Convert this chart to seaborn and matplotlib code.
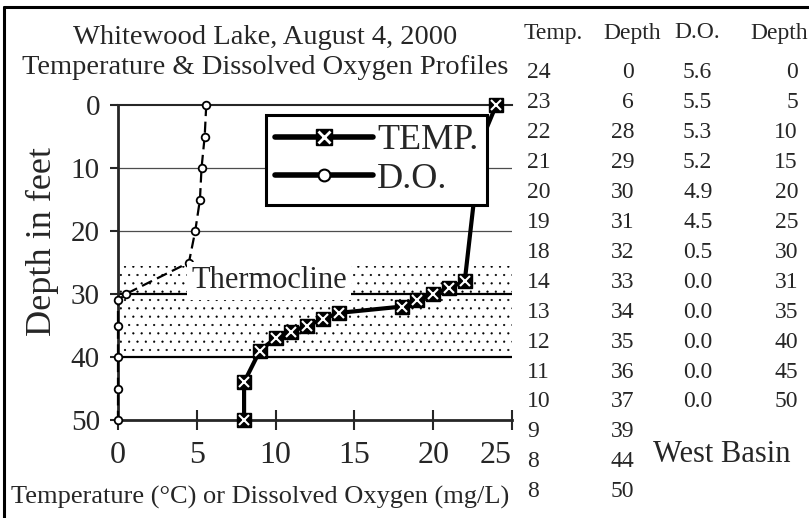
import matplotlib
matplotlib.use("Agg")
import matplotlib.pyplot as plt
from matplotlib.lines import Line2D
import seaborn as sns
import pandas as pd

# profile data (West Basin)
temp_c = [24, 23, 22, 21, 20, 19, 18, 14, 13, 12, 11, 10, 9, 8, 8]
temp_depth = [0, 6, 28, 29, 30, 31, 32, 33, 34, 35, 36, 37, 39, 44, 50]
do_mgl = [5.6, 5.5, 5.3, 5.2, 4.9, 4.5, 0.5, 0.0, 0.0, 0.0, 0.0, 0.0]
do_depth = [0, 5, 10, 15, 20, 25, 30, 31, 35, 40, 45, 50]
depth_ticks = [0, 10, 20, 30, 40, 50]
x_ticks = [0, 5, 10, 15, 20, 25]
thermo_top, thermo_bottom = 25.5, 39.5

temp_df = pd.DataFrame({"temp": temp_c, "depth": temp_depth})
do_df = pd.DataFrame({"do": do_mgl, "depth": do_depth})

sns.set_style("ticks")
plt.rcParams["font.family"] = ["Liberation Serif", "DejaVu Serif"]
plt.rcParams["hatch.linewidth"] = 0.35

W, H = 809, 518
fig = plt.figure(figsize=(W / 100, H / 100), dpi=100)
ax = fig.add_axes([118 / W, 1 - 420 / H, 394 / W, 315 / H])


def fx(px):
    return px / W


def fy(py):
    return 1 - py / H


# thermocline band
ax.fill_between([x_ticks[0], x_ticks[-1]], thermo_top, thermo_bottom, facecolor="white",
                edgecolor="black", hatch="..", linewidth=0, zorder=0.5)
for d in (10, 20):
    ax.axhline(d, color="0.3", lw=0.9, zorder=1)
for d in (30, 40):
    ax.axhline(d, color="black", lw=1.6, zorder=1)

sns.lineplot(data=do_df, x="do", y="depth", sort=False, estimator=None, color="black",
             lw=1.6, linestyle=(0, (5, 2.5)), marker="o", ms=5.5, mfc="white", mec="black",
             mew=1.3, clip_on=False, zorder=3, ax=ax)
sns.lineplot(data=temp_df, x="temp", y="depth", sort=False, estimator=None, color="black",
             lw=3, marker="s", ms=10, mfc="black", mec="black", mew=1,
             clip_on=False, zorder=4, ax=ax)
ax.plot(temp_df["temp"], temp_df["depth"], ls="none", marker="x", ms=6.5, mew=1.5,
        color="white", clip_on=False, zorder=5)

ax.text(9.6, 27.9, "Thermocline", fontsize=22, ha="center", va="center", zorder=3.5,
        bbox=dict(facecolor="white", edgecolor="none", pad=3))

ax.set_xlim(x_ticks[0], x_ticks[-1])
ax.set_ylim(depth_ticks[-1], depth_ticks[0])
ax.set_xticks(x_ticks)
ax.set_yticks(depth_ticks)
ax.tick_params(axis="y", direction="out", length=6, width=1.5, pad=7, labelsize=21)
ax.tick_params(axis="x", direction="inout", length=14, width=1.5, pad=8, labelsize=23)
ax.get_xticklabels()[-1].set_ha("right")

for side in ("left", "bottom"):
    ax.spines[side].set_linewidth(2)
ax.spines["top"].set_linewidth(1.5)
ax.spines["right"].set_visible(False)

ax.set_xlabel("Temperature (°C) or Dissolved Oxygen (mg/L)", fontsize=19)
ax.xaxis.set_label_coords((260 - 118) / 394, -(497 - 420) / 315)
ax.xaxis.label.set_va("center")
ax.set_ylabel("Depth in feet", fontsize=26)
ax.yaxis.set_label_coords((42 - 118) / 394, (420 - 242) / 315)
ax.yaxis.label.set_va("center")

h_temp = (Line2D([], [], color="black", lw=4, marker="s", ms=12, mfc="black", mec="black"),
          Line2D([], [], ls="none", marker="x", ms=8, mew=2, color="white"))
h_do = Line2D([], [], color="black", lw=4, marker="o", ms=8.5, mfc="white", mec="black", mew=1.5)
leg = ax.legend([h_temp, h_do], ["TEMP.", "D.O."], loc="upper left",
                bbox_to_anchor=(0.376, 0.968), fontsize=26, frameon=True, fancybox=False,
                framealpha=1, edgecolor="black", handlelength=2.7, handletextpad=0.12,
                borderpad=0.25, labelspacing=0.15, borderaxespad=0)
leg.get_frame().set_linewidth(2.2)
leg.set_zorder(10)

# titles
fig.text(fx(265), fy(37), "Whitewood Lake, August 4, 2000", ha="center", va="center", fontsize=20.5)
fig.text(fx(265), fy(68), "Temperature & Dissolved Oxygen Profiles", ha="center", va="center",
         fontsize=20.5)

# data table on the right
fs = 17
fig.text(fx(524), fy(33), "Temp.", ha="left", va="center", fontsize=fs)
fig.text(fx(632), fy(33), "Depth", ha="center", va="center", fontsize=fs)
fig.text(fx(697), fy(33), "D.O.", ha="center", va="center", fontsize=fs)
fig.text(fx(808), fy(33), "Depth", ha="right", va="center", fontsize=fs)
for i, (t, d) in enumerate(zip(temp_c, temp_depth)):
    y = fy(73 + 29.9 * i)
    fig.text(fx(527), y, str(t), ha="left", va="center", fontsize=fs)
    fig.text(fx(634), y, str(d), ha="right", va="center", fontsize=fs)
for i, (o, d) in enumerate(zip(do_mgl, do_depth)):
    y = fy(73 + 29.9 * i)
    fig.text(fx(683), y, f"{o:.1f}", ha="left", va="center", fontsize=fs)
    fig.text(fx(798), y, str(d), ha="right", va="center", fontsize=fs)
fig.text(fx(722), fy(455), "West Basin", ha="center", va="center", fontsize=22)

# frame edges
fig.add_artist(Line2D([fx(4), fx(4)], [fy(7), 0], transform=fig.transFigure, color="black", lw=2.2))
fig.add_artist(Line2D([fx(4), 1], [fy(7), fy(7)], transform=fig.transFigure, color="black", lw=2.2))

fig.savefig("out.png", dpi=100)
